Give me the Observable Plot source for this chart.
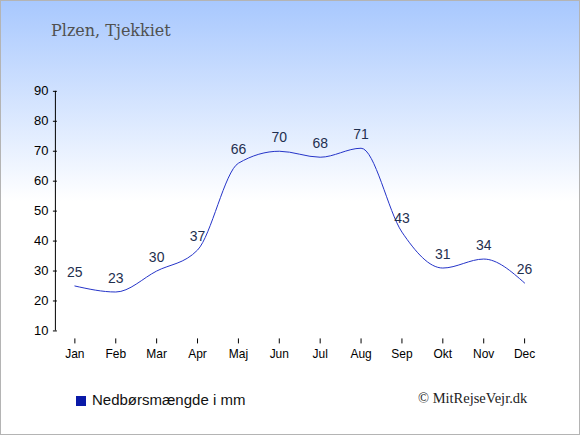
<!DOCTYPE html>
<html>
<head>
<meta charset="utf-8">
<script src="https://cdn.jsdelivr.net/npm/d3@7"></script>
<script src="https://cdn.jsdelivr.net/npm/@observablehq/plot@0.6"></script>
<style>
  html, body { margin: 0; padding: 0; }
  #wrap {
    position: relative; width: 580px; height: 435px; box-sizing: border-box;
    border: 1px solid #b4b4b4;
    background: linear-gradient(to bottom, #a8c8fe 0px, #ffffff 200px, #ffffff 435px);
    overflow: hidden;
  }
  #title { position: absolute; left: 50px; top: 20px; font-family: "DejaVu Serif", "Liberation Serif", serif; font-size: 16px; color: #505050; }
  #chart { position: absolute; left: -1px; top: -1px; }
  #legend { position: absolute; left: 75px; top: 390px; font-family: "Liberation Sans", Arial, sans-serif; font-size: 15px; color: #111; white-space: nowrap; }
  #legend span.sw { display: inline-block; width: 10px; height: 10px; background: #0a1aa8; margin-right: 6px; vertical-align: -1px; }
  #credit { position: absolute; left: 417px; top: 389px; font-family: "Liberation Serif", "DejaVu Serif", serif; font-size: 14.5px; color: #222; white-space: nowrap; }
</style>
</head>
<body>
<div id="wrap">
  <div id="title">Plzen, Tjekkiet</div>
  <div id="chart"></div>
  <div id="legend"><span class="sw"></span>Nedbørsmængde i mm</div>
  <div id="credit">© MitRejseVejr.dk</div>
</div>
<script>
const months = ["Jan","Feb","Mar","Apr","Maj","Jun","Jul","Aug","Sep","Okt","Nov","Dec"];
const precipitation = [25, 23, 30, 37, 66, 70, 68, 71, 43, 31, 34, 26];
const yTicks = [10, 20, 30, 40, 50, 60, 70, 80, 90];

const data = months.map((m, i) => ({month: m, value: precipitation[i]}));

const chart = Plot.plot({
  width: 580,
  height: 435,
  marginLeft: 55,
  marginRight: 55,
  marginTop: 91,
  marginBottom: 94,
  style: {background: "transparent", fontFamily: "'Liberation Sans', Arial, sans-serif", color: "#000", overflow: "visible"},
  x: {type: "point", domain: months, padding: 0, round: false, insetLeft: 19.5, insetRight: 0, label: null},
  y: {domain: [10, 90], insetBottom: 10, label: null},
  marks: [
    Plot.ruleX([months[0]], {x: d => d, y1: 10, y2: 90, dx: -19.5, stroke: "#000"}),
    Plot.ruleY([10], {x1: months[0], x2: months[months.length - 1], dy: 10, stroke: "#000"}),
    Plot.axisY({ticks: yTicks, tickSize: 4, dx: 2, tickPadding: 5, fontSize: 13, label: null, stroke: "#000", fill: "#000"}),
    Plot.axisX({tickSize: 5, dy: -2, tickPadding: 6, fontSize: 12, label: null, stroke: "#000", fill: "#000"}),
    Plot.lineY(data, {x: "month", y: "value", curve: "monotone-x", stroke: "#2433c8", strokeWidth: 1}),
    Plot.text(data, {x: "month", y: "value", text: d => String(d.value), dy: -14, fontSize: 14, fill: "#1f2f4f"})
  ]
});
document.getElementById("chart").appendChild(chart);
</script>
</body>
</html>
